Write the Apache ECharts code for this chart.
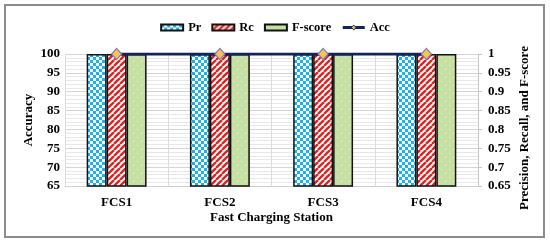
<!DOCTYPE html>
<html><head><meta charset="utf-8">
<script src="https://cdn.jsdelivr.net/npm/echarts@6/dist/echarts.min.js"></script>
<style>html,body{margin:0;padding:0;background:#fff}#c{width:550px;height:243px}</style>
</head><body><div id="c"></div>
<script>
const categories = ['FCS1','FCS2','FCS3','FCS4'];
const prValues = [1,1,1,1];
const rcValues = [1,1,1,1];
const fValues = [1,1,1,1];
const accValues = [100,100,100,100];
const seriesNames = ['Pr','Rc','F-score','Acc'];

function pat(w,h,draw){const c=document.createElement('canvas');c.width=w;c.height=h;const g=c.getContext('2d');draw(g);return {image:c,repeat:'repeat'};}
const checker = pat(6,6,g=>{g.fillStyle='#ffffff';g.fillRect(0,0,6,6);g.fillStyle='#18b4f2';g.fillRect(0,0,3,3);g.fillRect(3,3,3,3);});
const stripes = pat(6,6,g=>{g.fillStyle='#ffffff';g.fillRect(0,0,6,6);g.strokeStyle='#e02222';g.lineWidth=2.4;
  for(let k=-6;k<=12;k+=6){g.beginPath();g.moveTo(k,6);g.lineTo(k+6,0);g.stroke();}});
const dots = pat(8,8,g=>{g.fillStyle='#c6e0a4';g.fillRect(0,0,8,8);g.fillStyle='#eef6e2';g.fillRect(1,1,1,1);g.fillRect(5,5,1,1);});

const font = 'Liberation Serif';
const lineColor = '#13235e';
const chart = echarts.init(document.getElementById('c'));
chart.setOption({
  animation:false,
  graphic:[{type:'rect',shape:{x:5,y:5,width:539,height:232},style:{fill:'none',stroke:'#8c8c8c',lineWidth:2}}],
  legend:{top:16,left:'center',itemWidth:22,itemHeight:6,itemGap:10,
    textStyle:{fontFamily:font,fontWeight:'bold',fontSize:12.5,color:'#000'},
    data:[
      {name:seriesNames[0],icon:'rect'},
      {name:seriesNames[1],icon:'rect'},
      {name:seriesNames[2],icon:'rect'},
      {name:seriesNames[3],itemStyle:{color:'#f2c94c',borderColor:lineColor,borderWidth:1},lineStyle:{color:lineColor,width:3}}
    ]},
  grid:{left:65,right:72,top:54,bottom:57},
  xAxis:{type:'category',data:categories,
    axisLine:{show:true,lineStyle:{color:'#d0d0d0'}},axisTick:{show:false},
    splitLine:{show:true,lineStyle:{color:'#dcdcdc'}},
    axisLabel:{fontFamily:font,fontWeight:'bold',fontSize:13,color:'#000',margin:10},
    name:'Fast Charging Station',nameLocation:'middle',nameGap:25,nameMoveOverlap:false,
    nameTextStyle:{fontFamily:font,fontWeight:'bold',fontSize:13,color:'#000'}},
  yAxis:[
    {type:'value',min:65,max:100,interval:5,
     axisLine:{show:false},axisTick:{show:false},
     splitLine:{lineStyle:{color:'#d4d4d4'}},
     minorTick:{show:false,splitNumber:5},
     minorSplitLine:{show:true,lineStyle:{color:'#e8e8e8'}},
     axisLabel:{fontFamily:font,fontWeight:'bold',fontSize:13,color:'#000',margin:5},
     name:'Accuracy',nameLocation:'middle',nameGap:30,nameMoveOverlap:false,
     nameTextStyle:{fontFamily:font,fontWeight:'bold',fontSize:13,color:'#000'}},
    {type:'value',min:0.65,max:1,interval:0.05,
     axisLine:{show:true,lineStyle:{color:'#c8c8c8'}},axisTick:{show:true,length:4,lineStyle:{color:'#c8c8c8'}},
     splitLine:{show:false},
     axisLabel:{fontFamily:font,fontWeight:'bold',fontSize:13,color:'#000',margin:10,
       formatter:v=>String(+v.toFixed(2))},
     name:'Precision, Recall, and F-score',nameLocation:'middle',nameGap:40,nameMoveOverlap:false,
     nameTextStyle:{fontFamily:font,fontWeight:'bold',fontSize:13,color:'#000',padding:[0,16,0,0]}}
  ],
  series:[
    {name:seriesNames[0],type:'bar',yAxisIndex:1,data:prValues,barGap:'0%',barCategoryGap:'42%',
     itemStyle:{color:checker,borderColor:'#111',borderWidth:1.5}},
    {name:seriesNames[1],type:'bar',yAxisIndex:1,data:rcValues,barGap:'0%',barCategoryGap:'42%',
     itemStyle:{color:stripes,borderColor:'#111',borderWidth:1.5}},
    {name:seriesNames[2],type:'bar',yAxisIndex:1,data:fValues,barGap:'0%',barCategoryGap:'42%',
     itemStyle:{color:dots,borderColor:'#111',borderWidth:1.5}},
    {name:seriesNames[3],type:'line',yAxisIndex:0,data:accValues,z:5,
     lineStyle:{color:lineColor,width:3},
     symbol:'diamond',symbolSize:[10,11],
     itemStyle:{color:'#f2c94c',borderColor:'#8a7bb8',borderWidth:1.2}}
  ]
});
</script></body></html>
